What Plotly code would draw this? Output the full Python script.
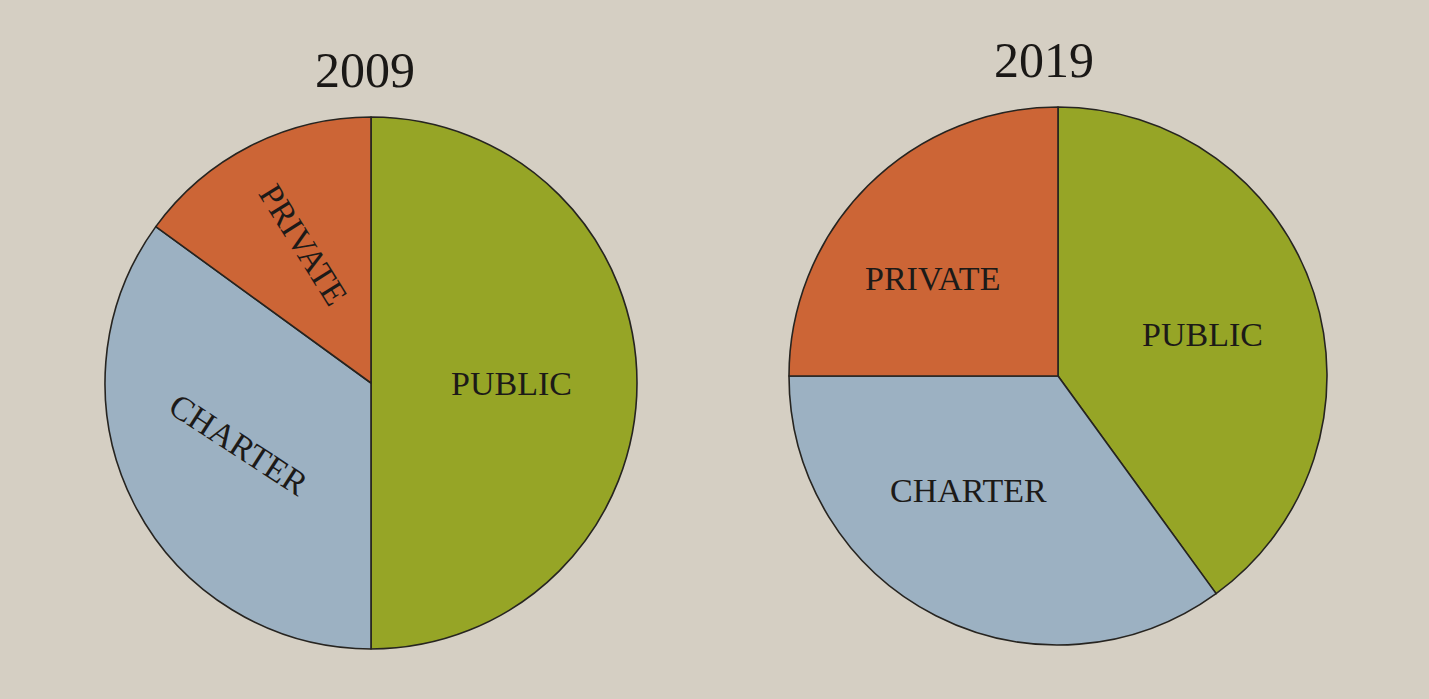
import math
import plotly.graph_objects as go

# ---- data ----
categories = ["PUBLIC", "CHARTER", "PRIVATE"]
share_2009 = [50, 35, 15]
share_2019 = [40, 35, 25]
years = ["2009", "2019"]

# ---- style / layout ----
colors = ["#96a526", "#9cb1c2", "#cc6536"]
BG = "#d5cfc3"
W, H = 1429, 699
pie_geom = [dict(cx=371, cy=383, r=266), dict(cx=1058, cy=376, r=269)]
title_pos = [(365, 70), (1044, 60)]
label_radius = [[0.53, 0.55, 0.58], [0.56, 0.54, 0.59]]
label_offset_deg = [[0, 2, 1], [2, 11, -7]]
label_textangle = [[0, 33, 58], [0, 0, 0]]
serif = "Liberation Serif, Times New Roman, serif"

fig = go.Figure()
annotations = []
for i, (year, vals) in enumerate(zip(years, [share_2009, share_2019])):
    g = pie_geom[i]
    fig.add_trace(go.Pie(
        labels=categories, values=vals, sort=False, direction="clockwise",
        rotation=0, textinfo="none", hoverinfo="label+percent",
        marker=dict(colors=colors, line=dict(color="#262420", width=1.6)),
        domain=dict(x=[(g["cx"] - g["r"]) / W, (g["cx"] + g["r"]) / W],
                    y=[1 - (g["cy"] + g["r"]) / H, 1 - (g["cy"] - g["r"]) / H]),
        showlegend=False, name=year,
    ))
    total = sum(vals)
    cum = 0
    for j, (cat, v) in enumerate(zip(categories, vals)):
        mid = (cum + v / 2) / total * 360 + label_offset_deg[i][j]
        cum += v
        d = label_radius[i][j] * g["r"]
        a = math.radians(mid)
        px = g["cx"] + d * math.sin(a)
        py = g["cy"] - d * math.cos(a)
        annotations.append(dict(
            x=px / W, y=1 - py / H, xref="paper", yref="paper",
            text=cat, showarrow=False, textangle=label_textangle[i][j],
            xanchor="center", yanchor="middle",
            font=dict(family=serif, size=34, color="#1c1a18"),
        ))
    tx, ty = title_pos[i]
    annotations.append(dict(
        x=tx / W, y=1 - ty / H, xref="paper", yref="paper", text=year,
        showarrow=False, xanchor="center", yanchor="middle",
        font=dict(family=serif, size=50, color="#1a1816"),
    ))

fig.update_layout(
    width=W, height=H, margin=dict(l=0, r=0, t=0, b=0),
    paper_bgcolor=BG, plot_bgcolor=BG,
    annotations=annotations,
)
fig.write_html(
    "out.html",
    config={"displayModeBar": False},
    post_script=("document.body.style.margin='0';"
                 "document.body.style.overflow='hidden';"
                 f"document.body.style.background='{BG}';"),
)
